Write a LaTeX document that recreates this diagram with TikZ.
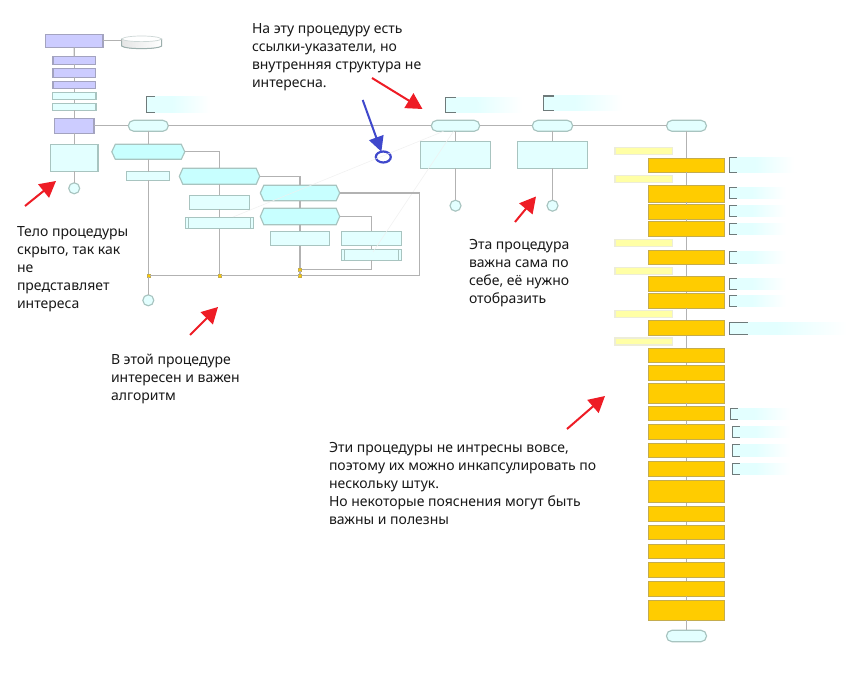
\documentclass[tikz,border=0pt]{standalone}
\usepackage{fontspec}
\setmainfont{Noto Sans}
\usetikzlibrary{arrows.meta,shapes.geometric}
\definecolor{linec}{HTML}{B2B2B2}
\definecolor{lightf}{HTML}{E3FFFF}
\definecolor{lightd}{HTML}{A8C4C0}
\definecolor{hexf}{HTML}{C8FFFF}
\definecolor{purpf}{HTML}{CCCCFF}
\definecolor{purpd}{HTML}{A3A3BF}
\definecolor{orf}{HTML}{FFCC00}
\definecolor{ord}{HTML}{C4AC4E}
\definecolor{yelf}{HTML}{FFFFA6}
\definecolor{yeld}{HTML}{EDEDD8}
\definecolor{brk}{HTML}{6E7A7A}
\definecolor{redar}{HTML}{EE1C25}
\definecolor{bluear}{HTML}{3F48CC}
\pgfdeclarehorizontalshading{cmtfade}{100bp}{color(0bp)=(lightf); color(25bp)=(lightf); color(45bp)=(lightf); color(75bp)=(white); color(100bp)=(white)}
\tikzset{
  x=1pt,y=-1pt,
  every node/.style={inner sep=0pt,outer sep=0pt},
  conn/.style={draw=linec,line width=1.15pt},
  light/.style={rectangle,draw=lightd,fill=lightf,line width=1.15pt},
  purple/.style={rectangle,draw=purpd,fill=purpf,line width=1.15pt},
  orange/.style={rectangle,draw=ord,fill=orf,line width=1.15pt},
  yellow/.style={rectangle,draw=yeld,fill=yelf,line width=1.15pt},
  term/.style={rectangle,rounded corners=5.5pt,draw=lightd,fill=lightf,line width=1.15pt},
  hexline/.style={draw=lightd,fill=hexf,line width=1.15pt},
  endc/.style={circle,draw=lightd,fill=lightf,line width=1.15pt,minimum size=11pt},
  junc/.style={rectangle,draw=ord,fill=orf,line width=.5pt,minimum size=3pt},
  ghost/.style={rectangle},
  comm/.style={rectangle,shading=cmtfade,shade},
  brack/.style={draw=brk,line width=1.15pt},
  faint/.style={draw=black!6,line width=.5pt},
  redarrow/.style={draw=redar,line width=2pt,-{Triangle[length=16pt,width=17pt]}},
  bluearrow/.style={draw=bluear,line width=2pt,-{Triangle[length=15pt,width=15pt]}},
  bluec/.style={ellipse,draw=bluear,line width=2.2pt,minimum width=15pt,minimum height=11pt},
  note/.style={anchor=north west,align=left,font=\fontsize{14}{18}\selectfont,text=black!90}
}
% style, name, x1, y1, x2, y2
\newcommand{\bx}[6]{\node[#1,minimum width={(#5-#3)*1pt},minimum height={(#6-#4)*1pt}] (#2) at ({(#3+#5)/2},{(#4+#6)/2}) {};}
% name, x1, y1, x2, y2
\newcommand{\hx}[5]{\bx{ghost}{#1}{#2}{#3}{#4}{#5}\draw[hexline] (#1.west) -- ([xshift=3.5pt]#1.north west) -- ([xshift=-3.5pt]#1.north east) -- (#1.east) -- ([xshift=-3.5pt]#1.south east) -- ([xshift=3.5pt]#1.south west) -- cycle;}
% name, x1, y1, y2, x2, arm
\newcommand{\cmnt}[6]{\bx{comm}{#1}{#2}{#3}{#5}{#4}\draw[brack] ([xshift=#6pt]#1.north west) -- (#1.north west) -- (#1.south west) -- ([xshift=#6pt]#1.south west);}
\begin{document}
\begin{tikzpicture}
\useasboundingbox[fill=white] (0,0) rectangle (847,698);
% left column
\bx{purple}{top}{45.5}{34.3}{103}{47.3}
\bx{ghost}{disk}{121.7}{36}{161.7}{48.7}
\fill[left color=black!10,right color=white] (121.7,39) -- (121.7,46) .. controls (125,49.5) and (158,49.5) .. (161.7,46) -- (161.7,39) -- cycle;
\draw[draw=lightd!70!gray,line width=1pt] (121.7,39) -- (121.7,46) .. controls (125,49.5) and (158,49.5) .. (161.7,46) -- (161.7,39);
\draw[draw=lightd!70!gray!50,fill=white,line width=.7pt] (121.7,39) .. controls (125,35) and (158,35) .. (161.7,39) .. controls (158,42.5) and (125,42.5) .. (121.7,39) -- cycle;
\bx{purple}{pa}{53}{56.3}{95.4}{64.3}
\bx{purple}{pb}{53}{68.3}{95.4}{77.3}
\bx{purple}{pc}{53}{81.3}{95.4}{88.7}
\bx{light}{pd}{52.4}{92.3}{96}{99.7}
\bx{light}{pe}{52.4}{103.3}{96}{110.3}
\bx{purple}{pf}{54.4}{118.3}{94}{133.3}
\bx{light}{pg}{50.4}{144.3}{98}{171.3}
\node[endc] (pcirc) at (74.2,188.3) {};
% terminators on the main line
\bx{term}{ta}{128.3}{120.3}{168.3}{131.3}
\bx{term}{tb}{431.3}{120.3}{479.7}{131.3}
\bx{term}{tc}{532.3}{120.3}{572.7}{131.3}
\bx{term}{td}{666.5}{120.3}{706.5}{131.3}
\bx{term}{te}{666.5}{630.3}{706.5}{641.7}
% algorithm block
\hx{ha}{111.8}{144.3}{184.8}{159.3}
\bx{light}{ra}{126.8}{171.7}{169.8}{180.3}
\hx{hb}{179.3}{168.3}{259.7}{184.3}
\bx{light}{rb}{189.3}{195.3}{249.7}{209.3}
\bx{light}{prb}{185.3}{217.3}{253.7}{228.7}
\hx{hc}{260.3}{185.3}{339.7}{200.7}
\hx{hd}{260.3}{208.3}{339.7}{224.7}
\bx{light}{rc}{270.3}{231.3}{329.7}{245.7}
\bx{light}{rd}{341.3}{231.3}{401.7}{245.7}
\bx{light}{prd}{341.3}{249.3}{401.7}{260.3}
\node[junc] (ja) at (148.3,275.5) {};
\node[junc] (jb) at (219.5,275.5) {};
\node[junc] (jc) at (300,275.5) {};
\node[junc] (jd) at (300,269.3) {};
\node[endc] (acirc) at (148.3,300.3) {};
\draw[conn,draw=lightd] ([xshift=3.3pt]prb.north west) -- ([xshift=3.3pt]prb.south west) ([xshift=-3.3pt]prb.north east) -- ([xshift=-3.3pt]prb.south east);
\draw[conn,draw=lightd] ([xshift=3pt]prd.north west) -- ([xshift=3pt]prd.south west) ([xshift=-3pt]prd.north east) -- ([xshift=-3pt]prd.south east);
% two plain procedures
\bx{light}{ba}{420.3}{141.3}{490.7}{168.3}
\bx{light}{bb}{517.3}{141.3}{587.7}{168.3}
\node[endc] (ca) at (455.5,205.7) {};
\node[endc] (cb) at (552.5,205.7) {};
\node[bluec] (bc) at (383.3,157) {};
% orange column
\bx{orange}{o1}{648.3}{158.3}{724.7}{172.3}
\bx{orange}{o2}{648.3}{185.3}{724.7}{202.3}
\bx{orange}{o3}{648.3}{204.7}{724.7}{219.3}
\bx{orange}{o4}{648.3}{221.3}{724.7}{236.7}
\bx{orange}{o5}{648.3}{250.3}{724.7}{264.7}
\bx{orange}{o6}{648.3}{276.3}{724.7}{291.7}
\bx{orange}{o7}{648.3}{293.3}{724.7}{308.3}
\bx{orange}{o8}{648.3}{320.3}{724.7}{335.7}
\bx{orange}{o9}{648.3}{348.3}{724.7}{362.7}
\bx{orange}{o10}{648.3}{365.3}{724.7}{380.7}
\bx{orange}{o11}{648.3}{383.3}{724.7}{403.3}
\bx{orange}{o12}{648.3}{406.3}{724.7}{420.7}
\bx{orange}{o13}{648.3}{424.7}{724.7}{439.7}
\bx{orange}{o14}{648.3}{443.3}{724.7}{457.7}
\bx{orange}{o15}{648.3}{461.3}{724.7}{476.7}
\bx{orange}{o16}{648.3}{480.3}{724.7}{502.7}
\bx{orange}{o17}{648.3}{506.3}{724.7}{521.7}
\bx{orange}{o18}{648.3}{525.3}{724.7}{539.7}
\bx{orange}{o19}{648.3}{544.3}{724.7}{558.7}
\bx{orange}{o20}{648.3}{562.3}{724.7}{577.7}
\bx{orange}{o21}{648.3}{581.3}{724.7}{596.3}
\bx{orange}{o22}{648.3}{600.3}{724.7}{620.3}
% faint stray lines
\coordinate (fa) at (233,217);
\coordinate (fb) at (373,252);
\draw[faint] (fa) -- ([xshift=-12pt]tb.south);
\draw[faint] (fb) -- ([xshift=-2pt]tb.south);
% connectors
\draw[conn] (top) -- (pa);
\draw[conn] (top.east) -- (disk.west |- top.east);
\foreach \a/\b in {pa/pb,pb/pc,pc/pd,pd/pe,pe/pf,pf/pg,pg/pcirc,ta/ha,ha/ra,ra/ja,ja/acirc,hb/rb,rb/prb,prb/jb,hc/hd,hd/rc,rc/jd,jd/jc,rd/prd,tb/ba,ba/ca,tc/bb,bb/cb,td/o1,o1/o2,o2/o3,o3/o4,o4/o5,o5/o6,o6/o7,o7/o8,o8/o9,o9/o10,o10/o11,o11/o12,o12/o13,o13/o14,o14/o15,o15/o16,o16/o17,o17/o18,o18/o19,o19/o20,o20/o21,o21/o22,o22/te}
  {\draw[conn] (\a) -- (\b);}
\draw[conn] (pf) -- (ta) (ta) -- (tb) (tb) -- (tc) (tc) -- (td);
\draw[conn] (ha.east) -| (hb.north);
\draw[conn] (hb.east) -| (hc.north);
\draw[conn] (hd.east) -| (rd.north);
\draw[conn] (prd.south) |- (jd.east);
\draw[conn] (hc.east) -| (419.7,275.5) -- (jc.east);
\draw[conn] (jc) -- (jb) (jb) -- (ja);
% yellow notes
\bx{yellow}{y1}{615}{147.3}{672.7}{154.3}
\bx{yellow}{y2}{615}{175.3}{672.7}{182.7}
\bx{yellow}{y3}{615}{239.3}{672.7}{246.7}
\bx{yellow}{y4}{615}{267.3}{672.7}{274.7}
\bx{yellow}{y5}{615}{310.3}{672.7}{317.7}
\bx{yellow}{y6}{615}{338}{672.7}{345}
% comment brackets
\cmnt{c1}{146.7}{96.3}{112.3}{210}{8.3}
\cmnt{c2}{445.3}{97.3}{112.7}{522}{10.7}
\cmnt{c3}{543.3}{96}{110.7}{622}{10.7}
\cmnt{c4}{729.3}{157.3}{172.3}{794}{7.4}
\cmnt{c5}{729.3}{187.3}{198.7}{786}{7.4}
\cmnt{c6}{729.3}{205.3}{216.7}{786}{7.4}
\cmnt{c7}{729.3}{223.3}{234.7}{786}{7.4}
\cmnt{c8}{729.3}{251.3}{263.7}{786}{7.4}
\cmnt{c9}{729.3}{278.3}{289.7}{786}{7.4}
\cmnt{c10}{729.3}{295.3}{306.7}{786}{7.4}
\cmnt{c11}{729.3}{322.3}{334.7}{847}{18.4}
\cmnt{c12}{730.3}{408.3}{419.7}{790}{7.4}
\cmnt{c13}{732.3}{426.3}{437.7}{790}{7.4}
\cmnt{c14}{732.3}{444.3}{456.7}{790}{7.4}
\cmnt{c15}{732.3}{463.3}{474.7}{790}{7.4}
% annotation arrows
\coordinate (rs1) at (372,78);  \coordinate (rt1) at (422.5,109);
\coordinate (rs2) at (515,222); \coordinate (rt2) at (536,196.5);
\coordinate (rs3) at (25,206);  \coordinate (rt3) at (56,181);
\coordinate (rs4) at (190,335); \coordinate (rt4) at (218,307);
\coordinate (rs5) at (567,429); \coordinate (rt5) at (605,396);
\coordinate (bs) at (362.7,100);
\foreach \a/\b in {rs1/rt1,rs2/rt2,rs3/rt3,rs4/rt4,rs5/rt5}
  {\draw[redarrow] (\a) -- (\b);}
\draw[bluearrow] (bs) -- (bc);
% texts
\node[note] (n1) at (252,24) {На эту процедуру есть\\ссылки-указатели, но\\внутренняя структура не\\интересна.};
\node[note] (n2) at (17,227) {Тело процедуры\\скрыто, так как\\не\\представляет\\интереса};
\node[note] (n3) at (111,354) {В этой процедуре\\интересен и важен\\алгоритм};
\node[note] (n4) at (469,239) {Эта процедура\\важна сама по\\себе, её нужно\\отобразить};
\node[note] (n5) at (329,442) {Эти процедуры не интресны вовсе,\\поэтому их можно инкапсулировать по\\нескольку штук.\\Но некоторые пояснения могут быть\\важны и полезны};
\end{tikzpicture}
\end{document}
